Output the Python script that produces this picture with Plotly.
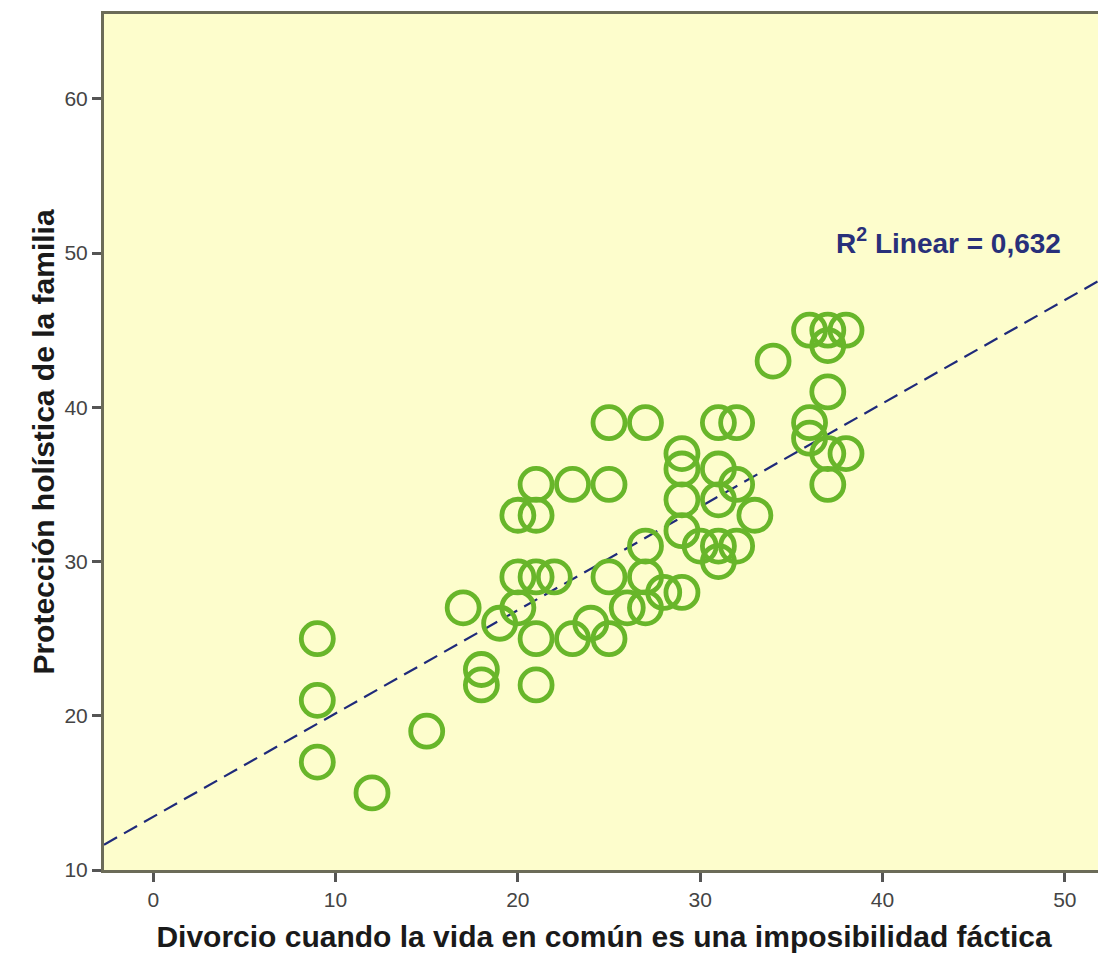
import plotly.graph_objects as go

# Divorcio cuando la vida en común es una imposibilidad fáctica (x)
x_vals = [9, 9, 9, 12, 15, 18, 18, 17, 19, 20, 20, 20, 21, 21, 21, 22, 21, 21,
          23, 23, 24, 25, 25, 25, 25, 26, 27, 27, 27, 27, 28, 29, 29, 29, 29, 29,
          30, 31, 31, 31, 31, 31, 32, 32, 32, 33, 34, 36, 37, 38, 37, 37, 36, 36,
          37, 38, 37]
# Protección holística de la familia (y)
y_vals = [25, 21, 17, 15, 19, 23, 22, 27, 26, 27, 29, 33, 33, 35, 29, 29, 25, 22,
          35, 25, 26, 35, 39, 29, 25, 27, 39, 31, 29, 27, 28, 28, 32, 34, 36, 37,
          31, 39, 36, 34, 31, 30, 31, 39, 35, 33, 43, 45, 45, 45, 44, 41, 39, 38,
          37, 37, 35]

# fitted line (R² linear = 0.632)
fit_intercept = 13.45
fit_slope = 0.67

x_ticks = [0, 10, 20, 30, 40, 50]
y_ticks = [10, 20, 30, 40, 50, 60]
r2_label = "R<sup>2</sup> Linear = 0,632"
r2_pos = (43.6, 50.8)
x_title = "Divorcio cuando la vida en común es una imposibilidad fáctica"
y_title = "Protección holística de la familia"

x_range = [-2.7, 52.15]
y_range = [10, 65.5]

fit_x = list(x_range)
fit_y = [fit_intercept + fit_slope * v for v in fit_x]

fig = go.Figure()
fig.add_trace(go.Scatter(
    x=fit_x, y=fit_y, mode="lines",
    line=dict(color="#1f2a7a", width=2.2, dash="15px,8px"),
    hoverinfo="skip", showlegend=False,
))
fig.add_trace(go.Scatter(
    x=x_vals, y=y_vals, mode="markers",
    marker=dict(symbol="circle-open", size=32, color="#68b62a",
                line=dict(width=4.8, color="#68b62a")),
    showlegend=False,
))

fig.add_annotation(
    x=r2_pos[0], y=r2_pos[1], xref="x", yref="y", text="<b>" + r2_label + "</b>",
    showarrow=False,
    font=dict(family="Liberation Sans, Arial", size=28, color="#28307a"),
)

axis_font = dict(family="Liberation Sans, Arial", size=21, color="#444444")
# the page body adds an 8px offset, so the figure is sized to fit the window
fig.update_layout(
    width=1098, height=951,
    margin=dict(l=96, r=2, t=6, b=89),
    paper_bgcolor="white",
    plot_bgcolor="#fdfdcc",
    font=dict(family="Liberation Sans, Arial"),
    xaxis=dict(
        range=x_range, tickvals=x_ticks, ticks="outside", ticklen=9, tickwidth=3,
        tickcolor="#555555", showgrid=False, zeroline=False, automargin=False,
        showline=True, linecolor="#6b6b58", linewidth=3, mirror=True,
        tickfont=axis_font,
        title=dict(text="<b>" + x_title + "</b>",
                   font=dict(size=30, color="#1a1a1a"), standoff=16),
    ),
    yaxis=dict(
        range=y_range, tickvals=y_ticks, ticks="outside", ticklen=9, tickwidth=3,
        tickcolor="#555555", showgrid=False, zeroline=False, automargin=False,
        showline=True, linecolor="#6b6b58", linewidth=3,
        tickfont=axis_font,
        title=dict(text="<b>" + y_title + "</b>",
                   font=dict(size=30, color="#1a1a1a"), standoff=1),
    ),
)

fig.write_html("out.html")
